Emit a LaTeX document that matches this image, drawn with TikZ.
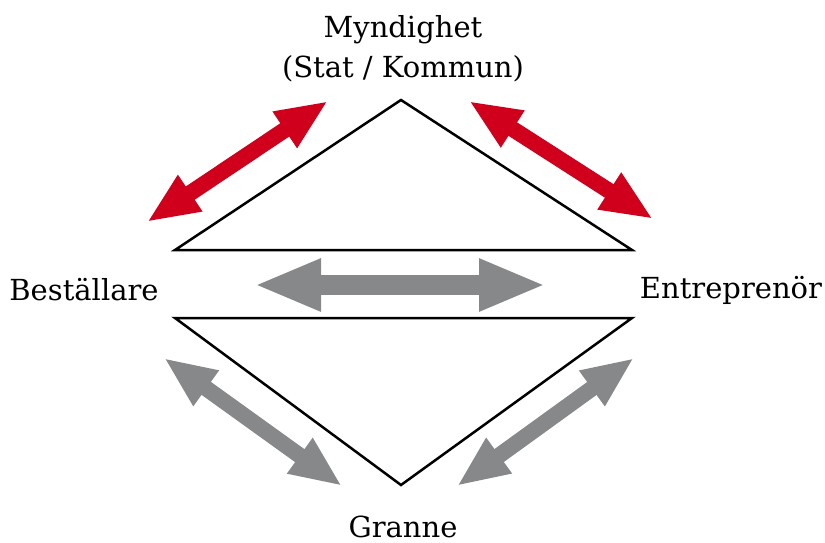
\documentclass[tikz,border=0pt]{standalone}
\usepackage{fontspec}
\setmainfont{DejaVu Serif}
\usetikzlibrary{arrows.meta}
\definecolor{arrred}{HTML}{D0001C}
\definecolor{arrgrey}{HTML}{87888A}
\tikzset{
  lbl/.style={font=\fontsize{29}{40}\selectfont, align=center, inner sep=0pt},
  tri/.style={draw=black, line width=2.5pt, line join=miter},
  smallarr/.style={line width=16pt, arrows={Triangle[length=52pt,width=40pt]-Triangle[length=52pt,width=40pt]}},
  bigarr/.style={line width=20pt, arrows={Triangle[length=67pt,width=48pt]-Triangle[length=67pt,width=48pt]}},
}
\begin{document}
\begin{tikzpicture}[x=1pt,y=-1pt]
\useasboundingbox (0,0) rectangle (825,543);
% labels
\node[lbl] (myn) at (403,49) {Myndighet\\(Stat / Kommun)};
\node[lbl] (best) at (84,290) {Beställare};
\node[lbl] (entr) at (731,290) {Entreprenör};
\node[lbl] (gran) at (403,527) {Granne};
% triangles
\coordinate (ta) at (401,100);
\coordinate (tl) at (175,250);
\coordinate (tr) at (632,250);
\coordinate (bl) at (175,318);
\coordinate (br) at (632,318);
\coordinate (bb) at (401,485);
\draw[tri] (ta) -- (tr) -- (tl) -- cycle;
\draw[tri] (bl) -- (br) -- (bb) -- cycle;
% arrow end points
\coordinate (r1a) at (147,222);
\coordinate (r1b) at (328,101);
\coordinate (r2a) at (469,101);
\coordinate (r2b) at (653,219);
\coordinate (g1a) at (164,358);
\coordinate (g1b) at (342,486);
\coordinate (g2a) at (634,358);
\coordinate (g2b) at (457,486);
\coordinate (ha) at (254,285);
\coordinate (hb) at (546,285);
\draw[smallarr, draw=arrred, fill=arrred] (r1a) -- (r1b);
\draw[smallarr, draw=arrred, fill=arrred] (r2a) -- (r2b);
\draw[smallarr, draw=arrgrey, fill=arrgrey] (g1a) -- (g1b);
\draw[smallarr, draw=arrgrey, fill=arrgrey] (g2a) -- (g2b);
\draw[bigarr, draw=arrgrey, fill=arrgrey] (ha) -- (hb);
\end{tikzpicture}
\end{document}
